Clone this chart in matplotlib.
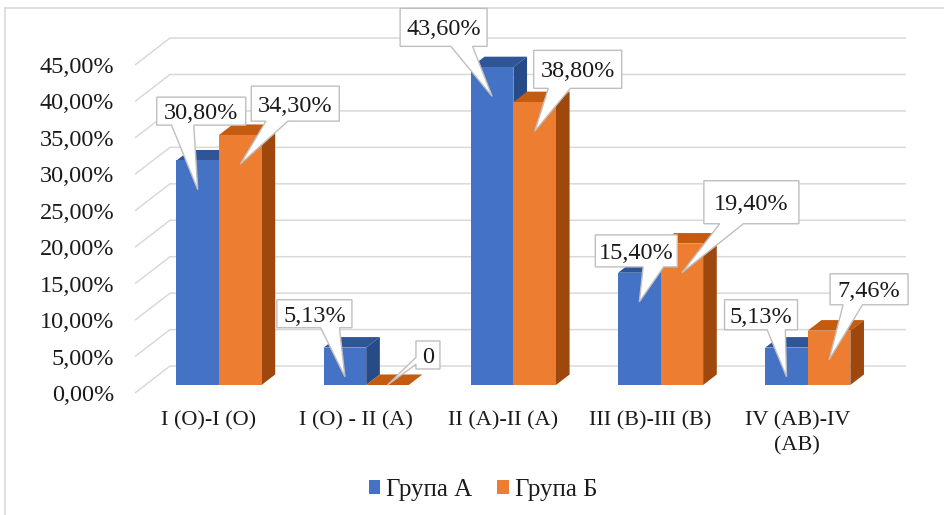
import matplotlib
matplotlib.use("Agg")
import matplotlib.pyplot as plt
from matplotlib.patches import Polygon, Patch
from matplotlib.lines import Line2D
import numpy as np

plt.rcParams['font.family'] = ['Liberation Serif', 'DejaVu Serif']

# ---- data -------------------------------------------------------------
categories = ["I (O)-I (O)", "I (O) - II (A)", "II (A)-II (A)",
              "III (B)-III (B)", "IV (AB)-IV\n(AB)"]
group_a = [30.80, 5.13, 43.60, 15.40, 5.13]
group_b = [34.30, 0.00, 38.80, 19.40, 7.46]
series_names = ["Група А", "Група Б"]
y_ticks = [0, 5, 10, 15, 20, 25, 30, 35, 40, 45]

# ---- styling ----------------------------------------------------------
FRONT = ["#4472C4", "#ED7D31"]
TOP = ["#2F5597", "#C55A11"]
SIDE = ["#264B86", "#9E480E"]
GRID = "#D9D9D9"
TEXT = "#1a1a1a"
FS = 17.5

W_PX, H_PX = 945, 515
fig = plt.figure(figsize=(W_PX / 100, H_PX / 100), dpi=100)
fig.patch.set_facecolor("white")

# front plane of the 3-D box
ax = fig.add_axes([135 / W_PX, 1 - 393 / H_PX, 736 / W_PX, 328 / H_PX])
ax.set_xlim(-0.5, len(categories) - 0.5)
ax.set_ylim(0, 45)
for s in ax.spines.values():
    s.set_visible(False)
ax.set_facecolor("none")

# depth of the floor (front plane -> back wall) in data units
DX, DY = 0.2378, 3.70
BAR_W = 0.289          # width of one column
F0, BD = 0.297, 0.39   # column front position and depth, as fraction of floor depth

# wall gridlines: diagonal on the side wall, horizontal on the back wall
x_left, x_right = ax.get_xlim()
for v in y_ticks:
    ax.plot([x_left, x_left + DX, x_right + DX], [v, v + DY, v + DY],
            color=GRID, lw=1.1, clip_on=False, zorder=1, solid_capstyle="butt")

ax.set_yticks(y_ticks)
ax.set_yticklabels([f"{v:.2f}%".replace(".", ",") for v in y_ticks])
ax.set_xticks(range(len(categories)))
ax.set_xticklabels(categories, linespacing=1.45)
ax.tick_params(axis="y", length=0, pad=15, labelsize=FS, labelcolor=TEXT)
ax.tick_params(axis="x", length=0, pad=13, labelsize=16, labelcolor=TEXT)

bdx, bdy = BD * DX, BD * DY
x_off, y0 = F0 * DX, F0 * DY

tips = []
for i in range(len(categories)):
    for s, vals in enumerate([group_a, group_b]):
        h = vals[i]
        x0 = i - BAR_W + s * BAR_W + x_off
        x1 = x0 + BAR_W
        top = y0 + h
        z = 3 + i * 2 + s
        # top face
        ax.add_patch(Polygon([(x0, top), (x1, top), (x1 + bdx, top + bdy), (x0 + bdx, top + bdy)],
                             closed=True, fc=TOP[s], ec="none", clip_on=False, zorder=z))
        if h > 0:
            # side face
            ax.add_patch(Polygon([(x1, y0), (x1 + bdx, y0 + bdy), (x1 + bdx, top + bdy), (x1, top)],
                                 closed=True, fc=SIDE[s], ec="none", clip_on=False, zorder=z))
            # front face
            ax.add_patch(Polygon([(x0, y0), (x1, y0), (x1, top), (x0, top)],
                                 closed=True, fc=FRONT[s], ec="none", clip_on=False, zorder=z))
        label = "0" if h == 0 else f"{h:.2f}%".replace(".", ",")
        tips.append((label, (x0 + x1) / 2, y0 + max(h - 4.0, 0.0)))

# callout boxes: centre offset from pointer tip (px, downward positive), width, height
callout_boxes = [
    (3.5, -78.5, 89, 28), (55, -60.5, 88, 35),
    (-30.5, -63, 75, 28), (40.5, -30, 24, 28),
    (-48.5, -69, 87, 38), (43, -62, 88, 38),
    (-3, -51, 82, 32), (69.5, -70.5, 95, 43),
    (-25.5, -62, 73, 30), (40, -70.5, 78, 31),
]


def wedge_callout(tx, ty, cx, cy, w, h):
    """Rectangle with a wedge pointing at (tx, ty); display coords, y up."""
    l, r, b, t = cx - w / 2, cx + w / 2, cy - h / 2, cy + h / 2
    dx, dy = tx - cx, ty - cy
    if abs(dy) * w >= abs(dx) * h:
        g1, g2 = (7, 10) if dx > 0 else (2, 5)
        xa, xb = l + w * g1 / 12, l + w * g2 / 12
        if dy < 0:
            return [(l, t), (r, t), (r, b), (xb, b), (tx, ty), (xa, b), (l, b)]
        return [(l, t), (xa, t), (tx, ty), (xb, t), (r, t), (r, b), (l, b)]
    g1, g2 = (7, 10) if dy < 0 else (2, 5)
    ya, yb = t - h * g1 / 12, t - h * g2 / 12
    if dx < 0:
        return [(l, t), (r, t), (r, b), (l, b), (l, yb), (tx, ty), (l, ya)]
    return [(l, t), (r, t), (r, ya), (tx, ty), (r, yb), (r, b), (l, b)]


for (label, tx_d, ty_d), (ox, oy, bw, bh) in zip(tips, callout_boxes):
    tx, ty = ax.transData.transform((tx_d, ty_d))
    cx, cy = tx + ox, ty - oy
    pts = np.array(wedge_callout(tx, ty, cx, cy, bw, bh))
    pts[:, 0] /= W_PX
    pts[:, 1] /= H_PX
    fig.add_artist(Polygon(pts, closed=True, fc="white", ec="#BFBFBF", lw=1.0,
                           transform=fig.transFigure, zorder=20))
    fig.text(cx / W_PX, cy / H_PX, label, ha="center", va="center_baseline",
             fontsize=FS, color=TEXT, zorder=21)

# chart frame
fig.add_artist(Line2D([5 / W_PX, 5 / W_PX], [0, 1 - 8 / H_PX], color=GRID, lw=1.2,
                      transform=fig.transFigure))
fig.add_artist(Line2D([5 / W_PX, 1], [1 - 8 / H_PX, 1 - 8 / H_PX], color=GRID, lw=1.2,
                      transform=fig.transFigure))

handles = [Patch(fc=FRONT[0], ec="none"), Patch(fc=FRONT[1], ec="none")]
fig.legend(handles, series_names, loc="center", bbox_to_anchor=(483 / W_PX, 1 - 490 / H_PX),
           ncol=2, frameon=False, fontsize=18, handlelength=0.45, handleheight=0.45,
           handletextpad=0.25, columnspacing=1.0, labelcolor=TEXT)

fig.savefig("out.png", dpi=100, facecolor="white")
